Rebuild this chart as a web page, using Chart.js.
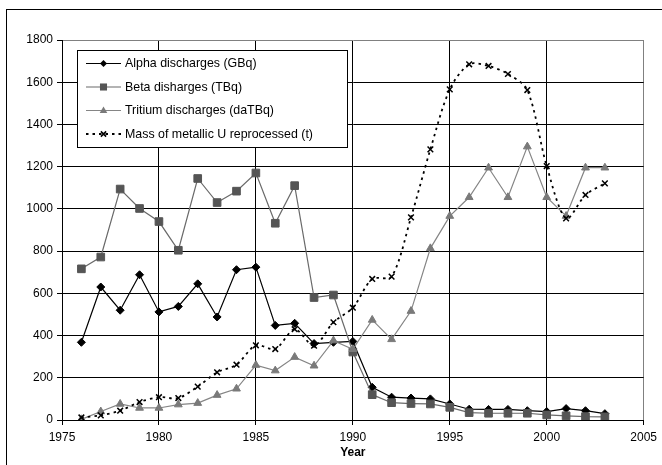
<!DOCTYPE html>
<html>
<head>
<meta charset="utf-8">
<script src="https://cdn.jsdelivr.net/npm/chart.js@4/dist/chart.umd.min.js"></script>
<style>
  html, body { margin: 0; padding: 0; background: #fff; }
  canvas { display: block; }
</style>
</head>
<body>
<canvas id="c" width="662" height="465"></canvas>
<script>
// Annual discharges and reprocessing throughput, 1976-2003
const years = [1976, 1977, 1978, 1979, 1980, 1981, 1982, 1983, 1984, 1985,
               1986, 1987, 1988, 1989, 1990, 1991, 1992, 1993, 1994, 1995,
               1996, 1997, 1998, 1999, 2000, 2001, 2002, 2003];

const alphaGBq = [368, 630, 520, 688, 512, 538, 645, 488, 712, 724,
                  448, 458, 362, 368, 372, 155, 108, 104, 100, 76,
                  51, 50, 50, 44, 40, 54, 44, 30];

const betaTBq = [716, 772, 1094, 1002, 940, 804, 1144, 1030, 1084, 1170,
                 932, 1110, 580, 592, 322, 120, 82, 78, 76, 60,
                 35, 32, 32, 32, 24, 20, 16, 15];

const tritiumDaTBq = [3, 40, 76, 57, 57, 73, 80, 118, 148, 260,
                      234, 298, 257, 376, 335, 474, 382, 516, 813, 966,
                      1055, 1195, 1055, 1295, 1055, 966, 1195, 1195];

const uraniumTonnes = [12, 22, 44, 85, 108, 104, 158, 226, 262, 354,
                       336, 430, 352, 463, 532, 668, 679, 960, 1282, 1566,
                       1685, 1677, 1639, 1563, 1203, 955, 1066, 1121];

const seriesNames = [
  'Alpha discharges (GBq)',
  'Beta disharges (TBq)',
  'Tritium discharges (daTBq)',
  'Mass of metallic U reprocessed (t)'
];

const xTicks = [1975, 1980, 1985, 1990, 1995, 2000, 2005];
const yTicks = [0, 200, 400, 600, 800, 1000, 1200, 1400, 1600, 1800];

const FONT = 'Liberation Sans, Arial, sans-serif';

function pairs(values) {
  return values.map((v, i) => ({ x: years[i], y: v }));
}

const styles = [
  { line: '#000000', point: '#000000', shape: 'rectRot', radius: 4, dash: [], width: 1.2, tension: 0 },
  { line: '#6a6a6a', point: '#555555', shape: 'rect', radius: 5.4, dash: [], width: 1.2, tension: 0 },
  { line: '#858585', point: '#7a7a7a', shape: 'triangle', radius: 4.5, dash: [], width: 1.2, tension: 0 },
  { line: '#000000', point: '#000000', shape: 'crossRot', radius: 4, dash: [2.5, 4], width: 1.8, tension: 0.3 }
];

const seriesValues = [alphaGBq, betaTBq, tritiumDaTBq, uraniumTonnes];

const datasets = seriesValues.map((vals, i) => ({
  label: seriesNames[i],
  data: pairs(vals),
  borderColor: styles[i].line,
  backgroundColor: styles[i].point,
  borderWidth: styles[i].width,
  borderDash: styles[i].dash,
  tension: styles[i].tension,
  pointStyle: styles[i].shape,
  pointRadius: styles[i].radius,
  pointBackgroundColor: styles[i].point,
  pointBorderColor: styles[i].point,
  pointBorderWidth: i === 3 ? 1.5 : 1,
  order: 3 - i
}));

// Marker drawing used by the in-plot legend
function marker(ctx, shape, x, y, r, color) {
  ctx.save();
  ctx.fillStyle = color;
  ctx.strokeStyle = color;
  ctx.setLineDash([]);
  ctx.beginPath();
  if (shape === 'rectRot') {
    ctx.moveTo(x, y - r); ctx.lineTo(x + r, y); ctx.lineTo(x, y + r); ctx.lineTo(x - r, y);
    ctx.closePath(); ctx.fill();
  } else if (shape === 'rect') {
    const s = r * Math.SQRT1_2;
    ctx.rect(x - s, y - s, 2 * s, 2 * s); ctx.fill();
  } else if (shape === 'triangle') {
    ctx.moveTo(x, y - r); ctx.lineTo(x + r * 0.95, y + r * 0.6); ctx.lineTo(x - r * 0.95, y + r * 0.6);
    ctx.closePath(); ctx.fill();
  } else {
    const d = r * 0.75;
    ctx.lineWidth = 1.5;
    ctx.moveTo(x - d, y - d); ctx.lineTo(x + d, y + d);
    ctx.moveTo(x + d, y - d); ctx.lineTo(x - d, y + d);
    ctx.stroke();
  }
  ctx.restore();
}

const framePlugin = {
  id: 'frame',
  beforeDraw(chart) {
    const ctx = chart.ctx;
    ctx.save();
    ctx.fillStyle = '#fff';
    ctx.fillRect(0, 0, chart.width, chart.height);
    ctx.strokeStyle = '#000';
    ctx.lineWidth = 1;
    ctx.strokeRect(6.5, 9.5, 900, 700);
    ctx.restore();
  },
  afterDraw(chart) {
    const ctx = chart.ctx;
    const left = 77.5, top = 50.5, w = 270, h = 97;
    ctx.save();
    ctx.fillStyle = '#fff';
    ctx.fillRect(left, top, w, h);
    ctx.strokeStyle = '#000';
    ctx.lineWidth = 1;
    ctx.strokeRect(left, top, w, h);
    ctx.font = '12.4px ' + FONT;
    ctx.textBaseline = 'middle';
    ctx.textAlign = 'left';
    const rowY = [63.5, 87, 110.5, 134];
    seriesNames.forEach((name, i) => {
      const y = rowY[i];
      const st = styles[i];
      ctx.save();
      ctx.strokeStyle = st.line;
      ctx.lineWidth = st.width;
      ctx.setLineDash(st.dash);
      ctx.beginPath();
      ctx.moveTo(86, y);
      ctx.lineTo(121, y);
      ctx.stroke();
      ctx.restore();
      marker(ctx, st.shape, 103.5, y, i === 1 ? 5 : st.radius - 0.5, st.point);
      ctx.fillStyle = '#000';
      ctx.fillText(name, 125, y + 0.5);
    });
    ctx.restore();
  }
};

new Chart(document.getElementById('c'), {
  type: 'line',
  data: { datasets },
  plugins: [framePlugin],
  options: {
    responsive: false,
    animation: false,
    devicePixelRatio: 1,
    layout: { padding: { left: 0, top: 40, right: 16, bottom: 0 } },
    plugins: {
      legend: { display: false },
      tooltip: { enabled: false }
    },
    elements: { line: { fill: false } },
    scales: {
      x: {
        type: 'linear',
        min: xTicks[0],
        max: xTicks[xTicks.length - 1],
        afterBuildTicks(scale) { scale.ticks = xTicks.map(v => ({ value: v })); },
        afterFit(scale) { scale.height = 45; },
        ticks: {
          color: '#000',
          font: { family: FONT, size: 12 },
          padding: 5,
          maxRotation: 0,
          callback: v => String(v)
        },
        grid: {
          color: ctx => (ctx.tick && ctx.tick.value === 2005 ? '#808080' : '#000'),
          tickColor: '#000',
          tickLength: 5,
          lineWidth: 1
        },
        border: { color: '#000', width: 1 },
        title: {
          display: true,
          text: 'Year',
          color: '#000',
          font: { family: FONT, size: 12, weight: 'bold' },
          padding: { top: 0, bottom: 5 }
        }
      },
      y: {
        min: yTicks[0],
        max: yTicks[yTicks.length - 1],
        afterBuildTicks(scale) { scale.ticks = yTicks.map(v => ({ value: v })); },
        afterFit(scale) { scale.width = 62; },
        ticks: {
          color: '#000',
          font: { family: FONT, size: 12 },
          padding: 4,
          callback: v => String(v)
        },
        grid: {
          color: ctx => (ctx.tick && ctx.tick.value === 1800 ? '#808080' : '#000'),
          tickColor: '#000',
          tickLength: 5,
          lineWidth: 1
        },
        border: { color: '#000', width: 1 }
      }
    }
  }
});
</script>
</body>
</html>
